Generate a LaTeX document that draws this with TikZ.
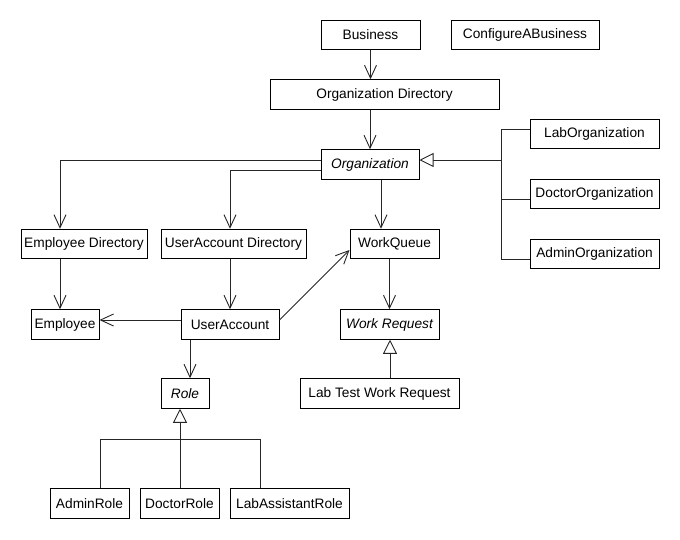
\documentclass[tikz,border=0pt]{standalone}
\usepackage{fontspec}
\setmainfont{Liberation Sans}
\usetikzlibrary{arrows.meta,positioning}

\begin{document}
\begin{tikzpicture}[x=1pt, y=-1pt,
    cls/.style={draw=black, line width=1pt, minimum height=29.5pt, inner xsep=2pt,
        inner ysep=0pt, font=\fontsize{13.7}{16}\selectfont},
    assoc/.style={draw=black!85, line width=0.9pt, -{Straight Barb[length=13pt,width=12pt,line width=0.9pt]}},
    gen/.style={draw=black!85, line width=0.9pt, -{Triangle[open,length=14pt,width=14pt,fill=white,line width=0.9pt]}},
    link/.style={draw=black!85, line width=0.9pt}]
    \useasboundingbox (0,0) rectangle (680,539);

    % 顶层
    \node[cls, minimum width=99pt]  (Business)  at (370.5,35)  {Business};
    \node[cls, minimum width=148pt] (Configure) at (525,35)    {ConfigureABusiness};
    \node[cls, minimum width=229pt] (OrgDir)    at (384.5,94.5) {Organization Directory};
    \node[cls, minimum width=98pt]  (Organization) at (370,164.5) {\itshape Organization};

    % 组织子类
    \node[cls, minimum width=129pt] (LabOrg)    at (594.5,134) {LabOrganization};
    \node[cls, minimum width=129pt] (DoctorOrg) at (594.5,194) {DoctorOrganization};
    \node[cls, minimum width=129pt] (AdminOrg)  at (594.5,254) {AdminOrganization};

    % 第二层
    \node[cls, minimum width=126pt] (EmpDir)    at (84,244)    {Employee Directory};
    \node[cls, minimum width=145pt] (UADir)     at (233.5,244) {UserAccount Directory};
    \node[cls, minimum width=89pt]  (WorkQueue) at (394.5,244) {WorkQueue};

    % 第三层
    \node[cls, minimum width=68pt]  (Employee)    at (65,324.5)    {Employee};
    \node[cls, minimum width=98pt]  (UserAccount) at (230,324.5)   {UserAccount};
    \node[cls, minimum width=99pt]  (WorkRequest) at (389.5,324.5) {\itshape Work Request};

    % 角色与请求
    \node[cls, minimum width=48pt]  (Role)    at (185,393.5)   {\itshape Role};
    \node[cls, minimum width=159pt] (LabTest) at (379.5,393.5) {Lab Test Work Request};
    \node[cls, minimum width=79pt]  (AdminRole)  at (89.5,503.5)  {AdminRole};
    \node[cls, minimum width=79pt]  (DoctorRole) at (179.5,503.5) {DoctorRole};
    \node[cls, minimum width=119pt] (LabAssistantRole) at (289.5,503.5) {LabAssistantRole};

    % 关联箭头
    \draw[assoc] (Business) -- (Business |- OrgDir.north);
    \draw[assoc] (Organization |- OrgDir.south) -- (Organization);
    \draw[assoc] ([yshift=4.5pt]Organization.west) -| ([xshift=-24pt]EmpDir.north);
    \draw[assoc] ([yshift=-5.5pt]Organization.west) -| (UserAccount |- UADir.north);
    \draw[assoc] ([xshift=11pt]Organization.south) -- ([xshift=11pt]Organization.south |- WorkQueue.north);
    \draw[assoc] ([xshift=-24pt]EmpDir.south) -- ([xshift=-24pt]EmpDir.south |- Employee.north);
    \draw[assoc] (UserAccount |- UADir.south) -- (UserAccount);
    \draw[assoc] ([yshift=4.5pt]UserAccount.west) -- ([yshift=4.5pt]Employee.east);
    \draw[assoc] ([yshift=4.5pt]UserAccount.east) -- ([yshift=-6pt]WorkQueue.west);
    \draw[assoc] ([xshift=5pt]Role.north |- UserAccount.south) -- ([xshift=5pt]Role.north);
    \draw[assoc] (WorkRequest |- WorkQueue.south) -- (WorkRequest);

    % 继承 (组织)
    \coordinate (obus) at (501,160);
    \draw[link] ([yshift=5pt]LabOrg.west) -| (obus);
    \draw[link] ([yshift=-5pt]DoctorOrg.west) -| (obus);
    \draw[link] ([yshift=-5pt]AdminOrg.west) -| (obus);
    \draw[gen] (obus) -- ([yshift=4.5pt]Organization.east);

    % 继承 (请求)
    \draw[gen] ([xshift=10.5pt]LabTest.north) -- ([xshift=10.5pt]LabTest.north |- WorkRequest.south);

    % 继承 (角色)
    \coordinate (rbus) at (180,439);
    \draw[link] ([xshift=10.5pt]AdminRole.north) |- (rbus);
    \draw[link] ([xshift=-29.5pt]LabAssistantRole.north) |- (rbus);
    \draw[link] (DoctorRole.north -| rbus) -- (rbus);
    \draw[gen] (rbus) -- (rbus |- Role.south);
\end{tikzpicture}
\end{document}
